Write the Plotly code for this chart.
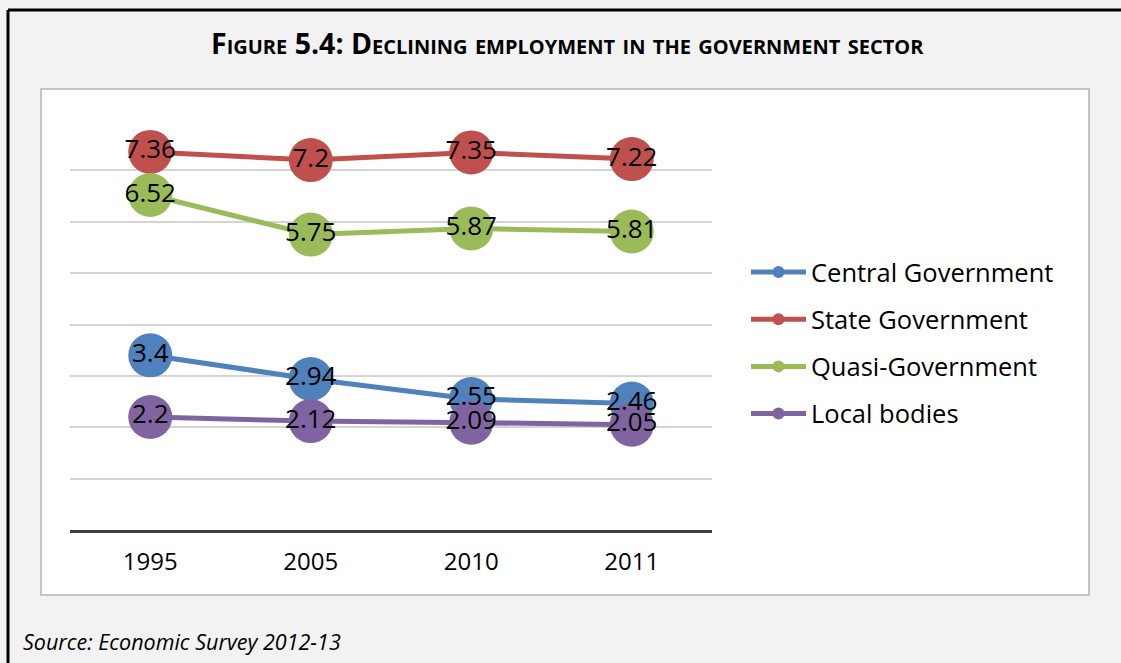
import plotly.graph_objects as go

years = ["1995", "2005", "2010", "2011"]
central = [3.4, 2.94, 2.55, 2.46]
state = [7.36, 7.2, 7.35, 7.22]
quasi = [6.52, 5.75, 5.87, 5.81]
local = [2.2, 2.12, 2.09, 2.05]

series = [
    ("Central Government", central, "#4F81BD"),
    ("State Government", state, "#C0504D"),
    ("Quasi-Government", quasi, "#9BBB59"),
    ("Local bodies", local, "#8064A2"),
]

W, H = 1121, 663
FONT = "Open Sans"

fig = go.Figure()
for i, (name, vals, col) in enumerate(series):
    fig.add_trace(go.Scatter(
        x=years, y=vals, name=name, mode="lines+markers",
        line=dict(color=col, width=5),
        marker=dict(size=44, color=col),
        legendgroup=str(i), hoverinfo="skip",
    ))
for i, (name, vals, col) in enumerate(series):
    fig.add_trace(go.Scatter(
        x=years, y=vals, mode="text", text=[str(v) for v in vals],
        textposition="middle center",
        textfont=dict(family=FONT, size=26, color="#000000"),
        showlegend=False, hoverinfo="skip",
    ))

def px_x(p):
    return p / W

def px_y(p):
    return 1 - p / H

shapes = [
    # inner white chart box
    dict(type="rect", xref="paper", yref="paper",
         x0=px_x(41), x1=px_x(1089), y0=px_y(595), y1=px_y(89),
         fillcolor="#ffffff", line=dict(color="#c4c4c4", width=2), layer="below"),
    # outer black frame (top and left)
    dict(type="line", xref="paper", yref="paper",
         x0=px_x(8), x1=px_x(1121), y0=px_y(10), y1=px_y(10),
         line=dict(color="#000000", width=3)),
    dict(type="line", xref="paper", yref="paper",
         x0=px_x(8), x1=px_x(8), y0=px_y(10), y1=px_y(663),
         line=dict(color="#000000", width=3)),
]

annotations = [
    dict(text="<b>Figure 5.4: Declining employment in the government sector</b>",
         xref="paper", yref="paper", x=px_x(567), y=px_y(43),
         xanchor="center", yanchor="middle", showarrow=False,
         font=dict(family=FONT, size=28.5, color="#000000", variant="small-caps")),
    dict(text="<i>Source: Economic Survey 2012-13</i>",
         xref="paper", yref="paper", x=px_x(21), y=px_y(641),
         xanchor="left", yanchor="middle", showarrow=False,
         font=dict(family=FONT, size=21.5, color="#000000")),
]

fig.update_layout(
    width=W, height=H,
    margin=dict(l=0, r=0, t=0, b=0),
    paper_bgcolor="#f2f2f2",
    plot_bgcolor="#ffffff",
    shapes=shapes,
    annotations=annotations,
    font=dict(family=FONT, color="#000000"),
    showlegend=True,
    legend=dict(
        x=px_x(746), y=px_y(249), xanchor="left", yanchor="top",
        bgcolor="rgba(0,0,0,0)", font=dict(family=FONT, size=25.5, color="#000000"),
        itemsizing="constant", itemwidth=55, tracegroupgap=11,
        traceorder="grouped",
    ),
    xaxis=dict(
        domain=[px_x(70), px_x(712)], type="category", range=[-0.5, 3.5],
        showgrid=False, showline=True, linecolor="#404040", linewidth=3,
        ticks="outside", ticklen=0, ticklabelstandoff=8,
        tickfont=dict(family=FONT, size=24, color="#000000"),
        zeroline=False, fixedrange=True,
    ),
    yaxis=dict(
        domain=[px_y(530), px_y(119)], range=[0, 8], dtick=1,
        showgrid=True, gridcolor="#d4d4d4", gridwidth=1.5,
        showticklabels=False, zeroline=False, showline=False, fixedrange=True,
    ),
)

fig.write_html("out.html")
